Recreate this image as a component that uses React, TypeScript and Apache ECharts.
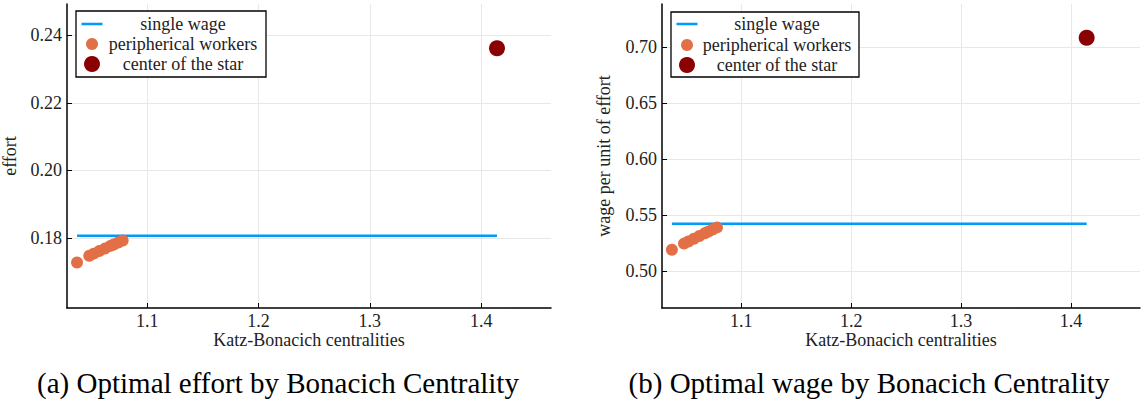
import React, { useEffect, useRef } from "react";
import * as echarts from "echarts";

// ---- data ----
const peripheralCentrality = [1.037, 1.048, 1.052, 1.057, 1.062, 1.067, 1.070, 1.074, 1.078];
const peripheralEffort = [0.1727, 0.1747, 0.1753, 0.1761, 0.1768, 0.1776, 0.1780, 0.1786, 0.1792];
const peripheralWage = [0.5193, 0.5248, 0.5267, 0.5292, 0.5316, 0.5340, 0.5355, 0.5374, 0.5393];
const centerCentrality = 1.4142;
const centerEffort = 0.2362;
const centerWage = 0.7087;
const singleWageEffort = 0.1806;
const singleWageRate = 0.5426;
const xTicks = [1.1, 1.2, 1.3, 1.4];
const effortTicks = [0.18, 0.2, 0.22, 0.24];
const wageTicks = [0.5, 0.55, 0.6, 0.65, 0.7];
const legendLabels = ["single wage", "peripherical workers", "center of the star"];
const captions = ["(a) Optimal effort by Bonacich Centrality", "(b) Optimal wage by Bonacich Centrality"];

const FONT = "Liberation Serif";
const TXT = "#222222";
const BLUE = "#009AFA";
const ORANGE = "#E26F46";
const DARKRED = "#8B0000";
const GRIDC = "#e8e8e8";

function xAxisDef(gridIndex: number) {
  return {
    type: "value",
    gridIndex,
    min: 1.028,
    max: 1.4627,
    name: "Katz-Bonacich centralities",
    nameLocation: "middle",
    nameGap: 23,
    nameMoveOverlap: false,
    nameTextStyle: { fontFamily: FONT, fontSize: 18, color: TXT },
    axisLine: { show: true, onZero: false, lineStyle: { color: "#000", width: 1.5 } },
    axisTick: { show: true, inside: true, length: 5, customValues: xTicks, lineStyle: { color: "#000", width: 1 } },
    axisLabel: {
      customValues: xTicks,
      margin: 4,
      fontFamily: FONT,
      fontSize: 18,
      color: TXT,
      formatter: (v: number) => v.toFixed(1),
    },
    splitLine: { show: true, lineStyle: { color: GRIDC, width: 1 } },
  };
}

function yAxisDef(gridIndex: number, min: number, max: number, ticks: number[], name: string, gap: number) {
  return {
    type: "value",
    gridIndex,
    min,
    max,
    name,
    nameLocation: "middle",
    nameGap: gap,
    nameTextStyle: { fontFamily: FONT, fontSize: 18, color: TXT },
    axisLine: { show: true, onZero: false, lineStyle: { color: "#000", width: 1.5 } },
    axisTick: { show: true, inside: true, length: 5, customValues: ticks, lineStyle: { color: "#000", width: 1 } },
    axisLabel: {
      customValues: ticks,
      margin: 5,
      fontFamily: FONT,
      fontSize: 18,
      color: TXT,
      formatter: (v: number) => v.toFixed(2),
    },
    splitLine: { show: true, lineStyle: { color: GRIDC, width: 1 } },
  };
}

function legendGraphic(box: { x: number; y: number; w: number; h: number }, markerX: number, textX: number, rows: number[]) {
  return [
    {
      type: "rect",
      shape: { x: box.x, y: box.y, width: box.w, height: box.h },
      style: { fill: "#fff", stroke: "#000", lineWidth: 1.3 },
      z: 100,
    },
    {
      type: "line",
      shape: { x1: markerX - 10.5, y1: rows[0], x2: markerX + 10.5, y2: rows[0] },
      style: { stroke: BLUE, lineWidth: 2.5 },
      z: 101,
    },
    {
      type: "circle",
      shape: { cx: markerX, cy: rows[1], r: 6 },
      style: { fill: ORANGE },
      z: 101,
    },
    {
      type: "circle",
      shape: { cx: markerX, cy: rows[2], r: 8 },
      style: { fill: DARKRED },
      z: 101,
    },
    ...legendLabels.map((t, i) => ({
      type: "text",
      x: textX,
      y: rows[i],
      style: { text: t, fontFamily: FONT, fontSize: 18, fill: TXT, align: "center", verticalAlign: "middle" },
      z: 101,
    })),
  ];
}

export default function App() {
  const ref = useRef<HTMLDivElement>(null);
  useEffect(() => {
    if (!ref.current) return;
    const chart = echarts.init(ref.current, undefined, { renderer: "svg" });
    const periEffort = peripheralCentrality.map((x, i) => [x, peripheralEffort[i]]);
    const periWage = peripheralCentrality.map((x, i) => [x, peripheralWage[i]]);
    const xStart = peripheralCentrality[0];
    chart.setOption({
      animation: false,
      backgroundColor: "#fff",
      textStyle: { fontFamily: FONT },
      grid: [
        { left: 66, top: 4, width: 485, height: 304 },
        { left: 662, top: 4, width: 478, height: 304 },
      ],
      xAxis: [xAxisDef(0), xAxisDef(1)],
      yAxis: [
        yAxisDef(0, 0.1592, 0.2493, effortTicks, "effort", 48),
        yAxisDef(1, 0.4673, 0.7388, wageTicks, "wage per unit of effort", 49),
      ],
      series: [
        {
          type: "line",
          xAxisIndex: 0,
          yAxisIndex: 0,
          data: [[xStart, singleWageEffort], [centerCentrality, singleWageEffort]],
          showSymbol: false,
          lineStyle: { color: BLUE, width: 2.5 },
          z: 2,
        },
        {
          type: "scatter",
          xAxisIndex: 0,
          yAxisIndex: 0,
          data: periEffort,
          symbolSize: 12,
          itemStyle: { color: ORANGE, opacity: 1 },
          z: 3,
        },
        {
          type: "scatter",
          xAxisIndex: 0,
          yAxisIndex: 0,
          data: [[centerCentrality, centerEffort]],
          symbolSize: 16,
          itemStyle: { color: DARKRED, opacity: 1 },
          z: 3,
        },
        {
          type: "line",
          xAxisIndex: 1,
          yAxisIndex: 1,
          data: [[xStart, singleWageRate], [centerCentrality, singleWageRate]],
          showSymbol: false,
          lineStyle: { color: BLUE, width: 2.5 },
          z: 2,
        },
        {
          type: "scatter",
          xAxisIndex: 1,
          yAxisIndex: 1,
          data: periWage,
          symbolSize: 12,
          itemStyle: { color: ORANGE, opacity: 1 },
          z: 3,
        },
        {
          type: "scatter",
          xAxisIndex: 1,
          yAxisIndex: 1,
          data: [[centerCentrality, centerWage]],
          symbolSize: 16,
          itemStyle: { color: DARKRED, opacity: 1 },
          z: 3,
        },
      ],
      graphic: [
        ...legendGraphic({ x: 76, y: 11, w: 190, h: 66 }, 92, 183, [24, 44, 64]),
        ...legendGraphic({ x: 671, y: 12, w: 188, h: 65 }, 687, 777, [24, 45, 65]),
        {
          type: "text",
          x: 278,
          y: 383,
          style: { text: captions[0], fontFamily: FONT, fontSize: 29, fill: "#000", align: "center", verticalAlign: "middle" },
        },
        {
          type: "text",
          x: 869,
          y: 383,
          style: { text: captions[1], fontFamily: FONT, fontSize: 29, fill: "#000", align: "center", verticalAlign: "middle" },
        },
      ],
    });
    return () => chart.dispose();
  }, []);
  return (
    <div
      ref={ref}
      style={{ position: "fixed", left: 0, top: 0, width: 1146, height: 402, background: "#fff" }}
    />
  );
}
